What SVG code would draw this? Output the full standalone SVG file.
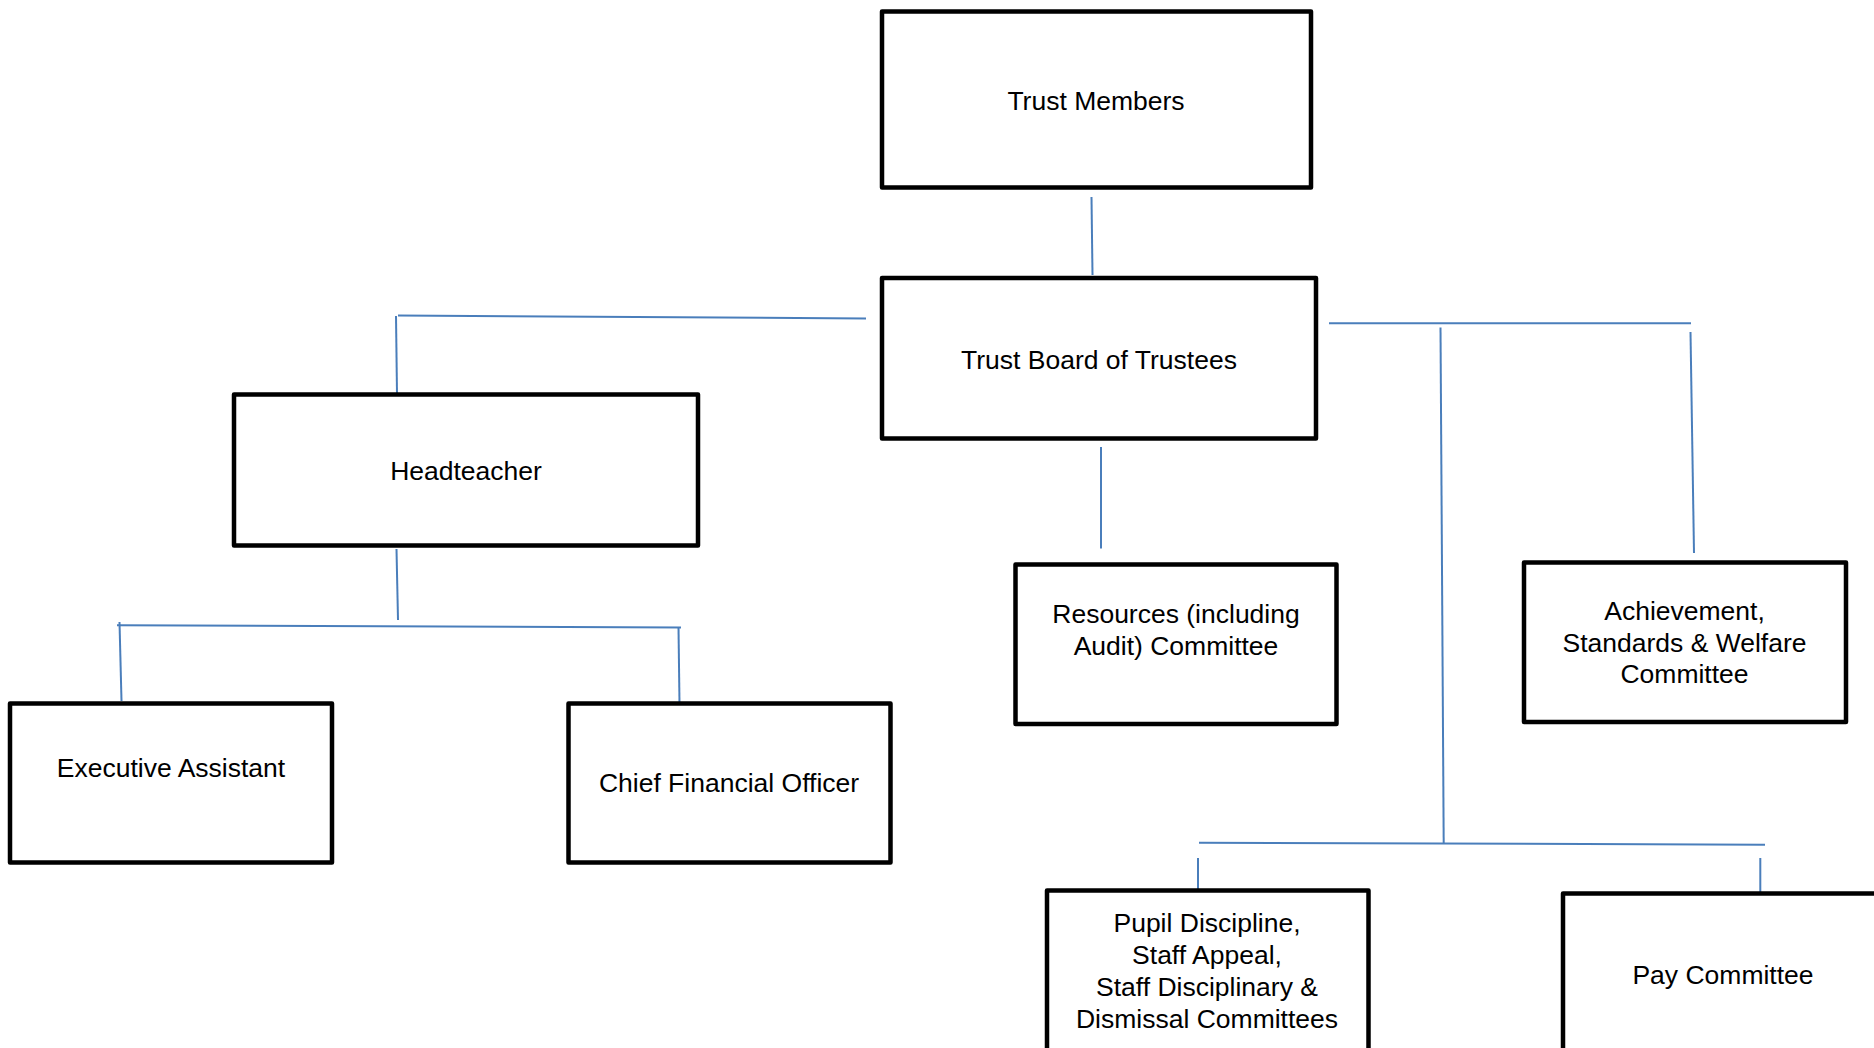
<svg xmlns="http://www.w3.org/2000/svg" width="1874" height="1048" viewBox="0 0 1874 1048">
<style>
.box{fill:#ffffff;stroke:#000000;stroke-width:4.5;stroke-linejoin:round}
.lbl{font-family:"Liberation Sans",Arial,sans-serif;font-size:26.5px;fill:#000000;text-anchor:middle}
.con{stroke:#4A7EBB;stroke-width:2;fill:none}
</style>
<rect width="1874" height="1048" fill="#ffffff"/>
<g id="connectors">
<line class="con" x1="1091.5" y1="197" x2="1092.5" y2="275"/>
<line class="con" x1="398" y1="315.5" x2="866" y2="318.5"/>
<line class="con" x1="396" y1="316" x2="397" y2="394"/>
<line class="con" x1="396.5" y1="549" x2="398" y2="620"/>
<line class="con" x1="117" y1="625.3" x2="681" y2="627.5"/>
<line class="con" x1="119.5" y1="622" x2="121.5" y2="701"/>
<line class="con" x1="678.5" y1="627" x2="679.5" y2="704"/>
<line class="con" x1="1101" y1="447" x2="1101" y2="548.5"/>
<line class="con" x1="1329" y1="323.3" x2="1691" y2="323.3"/>
<line class="con" x1="1690.5" y1="332" x2="1694" y2="553"/>
<line class="con" x1="1440.5" y1="327.5" x2="1443.7" y2="843.5"/>
<line class="con" x1="1199" y1="842.7" x2="1765" y2="844.7"/>
<line class="con" x1="1198" y1="858" x2="1198" y2="890"/>
<line class="con" x1="1760.3" y1="858" x2="1760.3" y2="893"/>
</g>
<g id="trust-members">
<rect class="box" x="882" y="11.5" width="429" height="176"/>
<text class="lbl" x="1096" y="110">Trust Members</text>
</g>
<g id="trust-board">
<rect class="box" x="882" y="278" width="434" height="160.5"/>
<text class="lbl" x="1099" y="368.5">Trust Board of Trustees</text>
</g>
<g id="headteacher">
<rect class="box" x="234" y="394.5" width="464" height="151"/>
<text class="lbl" x="466" y="480">Headteacher</text>
</g>
<g id="executive-assistant">
<rect class="box" x="10" y="703.5" width="322" height="159"/>
<text class="lbl" x="171" y="777">Executive Assistant</text>
</g>
<g id="chief-financial-officer">
<rect class="box" x="568.5" y="703.5" width="322" height="159"/>
<text class="lbl" x="729" y="792">Chief Financial Officer</text>
</g>
<g id="resources-committee">
<rect class="box" x="1015.5" y="564.5" width="321" height="159.5"/>
<text class="lbl" x="1176" y="623">Resources (including</text>
<text class="lbl" x="1176" y="654.5">Audit) Committee</text>
</g>
<g id="achievement-committee">
<rect class="box" x="1524" y="562.5" width="322" height="159.5"/>
<text class="lbl" x="1684.5" y="620">Achievement,</text>
<text class="lbl" x="1684.5" y="651.5">Standards &amp; Welfare</text>
<text class="lbl" x="1684.5" y="683">Committee</text>
</g>
<g id="discipline-committees">
<rect class="box" x="1047" y="890.5" width="321.5" height="170"/>
<text class="lbl" x="1207" y="931.5">Pupil Discipline,</text>
<text class="lbl" x="1207" y="963.5">Staff Appeal,</text>
<text class="lbl" x="1207" y="995.5">Staff Disciplinary &amp;</text>
<text class="lbl" x="1207" y="1027.5">Dismissal Committees</text>
</g>
<g id="pay-committee">
<rect class="box" x="1563" y="893.5" width="322" height="170"/>
<text class="lbl" x="1723" y="983.5">Pay Committee</text>
</g>
</svg>
